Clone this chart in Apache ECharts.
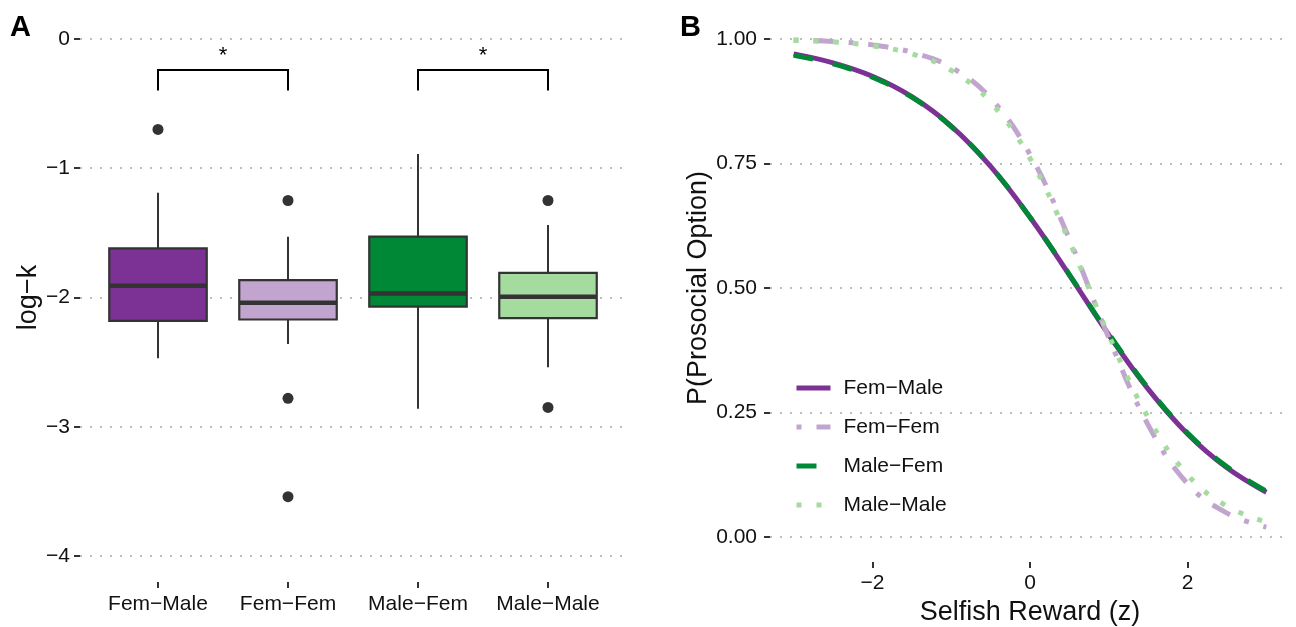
<!DOCTYPE html>
<html><head><meta charset="utf-8">
<script src="https://cdn.jsdelivr.net/npm/echarts@6/dist/echarts.min.js"></script>
<style>html,body{margin:0;padding:0;background:#fff}#c{width:1296px;height:627px}</style>
</head><body><div id="c"></div>
<script>
// ---------- Panel A data ----------
const categories = ['Fem−Male', 'Fem−Fem', 'Male−Fem', 'Male−Male'];
const boxColors = ['#7B3294', '#C2A5CF', '#008837', '#A6DBA0'];
// [lower whisker, Q1, median, Q3, upper whisker]
const femMaleBox  = [-2.47, -2.18, -1.91, -1.62, -1.19];
const femFemBox   = [-2.36, -2.17, -2.04, -1.865, -1.53];
const maleFemBox  = [-2.86, -2.07, -1.97, -1.53, -0.89];
const maleMaleBox = [-2.54, -2.16, -1.995, -1.81, -1.44];
// [category position (1-based), log-k]
const outliers = [[1, -0.70], [2, -1.25], [2, -2.78], [2, -3.54], [4, -1.25], [4, -2.85]];
const sigPairs = [[1, 2], [3, 4]];
const sigLabels = ['*', '*'];
const bracketTop = -0.24, bracketBottom = -0.40, starY = -0.13;
const logkTicks = [-4, -3, -2, -1, 0];

// ---------- Panel B data ----------
const rewardZ   = [-3, -2.5, -2, -1.5, -1, -0.5, 0, 0.5, 1, 1.5, 2, 2.5, 3];
const femMale   = [0.970, 0.952, 0.925, 0.884, 0.825, 0.744, 0.642, 0.526, 0.406, 0.297, 0.207, 0.139, 0.090];
const femFem    = [0.998, 0.995, 0.988, 0.973, 0.943, 0.881, 0.768, 0.598, 0.400, 0.225, 0.107, 0.048, 0.020];
const maleFem   = [0.967, 0.950, 0.923, 0.883, 0.824, 0.744, 0.642, 0.527, 0.408, 0.299, 0.209, 0.141, 0.092];
const maleMale  = [0.997, 0.994, 0.986, 0.970, 0.937, 0.873, 0.760, 0.593, 0.405, 0.240, 0.125, 0.062, 0.030];
const probTicks = [0, 0.25, 0.5, 0.75, 1];
const rewardTicks = [-2, 0, 2];

const FONT = "'Liberation Sans', Arial, Helvetica, sans-serif";
const minus = v => String(v).replace('-', '\u2212');
const gridLine = { show: true, lineStyle: { color: '#BEBEBE', width: 2, type: [2, 8] } };
const tick = { show: true, length: 6, lineStyle: { color: '#333', width: 2 } };
const lbl = { color: '#111', fontSize: 21, fontFamily: FONT };
const noLine = { show: false, onZero: false };

const boxData = [femMaleBox, femFemBox, maleFemBox, maleMaleBox].map((s, i) => [i + 1].concat(s));
const zip = arr => rewardZ.map((z, i) => [z, arr[i]]);

const chart = echarts.init(document.getElementById('c'));
chart.setOption({
  animation: false,
  backgroundColor: '#fff',
  textStyle: { fontFamily: FONT },
  grid: [
    { left: 80, width: 546, top: 13, height: 569, containLabel: false, outerBoundsMode: 'none' },
    { left: 770, width: 520, top: 14, height: 548, containLabel: false, outerBoundsMode: 'none' }
  ],
  xAxis: [
    { type: 'value', gridIndex: 0, min: 0.4, max: 4.6, position: 'bottom',
      axisLine: noLine, splitLine: { show: false },
      axisTick: Object.assign({ customValues: [1, 2, 3, 4] }, tick),
      axisLabel: Object.assign({ customValues: [1, 2, 3, 4], margin: 12,
        formatter: v => categories[Math.round(v) - 1] || '' }, lbl) },
    { type: 'value', gridIndex: 1, min: -3.3, max: 3.3, position: 'bottom',
      axisLine: noLine, splitLine: { show: false },
      axisTick: Object.assign({ customValues: rewardTicks }, tick),
      axisLabel: Object.assign({ customValues: rewardTicks, margin: 11, formatter: minus }, lbl),
      name: 'Selfish Reward (z)', nameLocation: 'middle', nameGap: 33,
      nameTextStyle: { fontSize: 27, color: '#111', fontFamily: FONT } }
  ],
  yAxis: [
    { type: 'value', gridIndex: 0, min: -4.2, max: 0.2, position: 'left',
      axisLine: noLine, splitLine: gridLine,
      axisTick: Object.assign({ customValues: logkTicks }, tick),
      axisLabel: Object.assign({ customValues: logkTicks, margin: 10, formatter: minus }, lbl),
      name: 'log\u2212k', nameLocation: 'middle', nameGap: 36,
      nameTextStyle: { fontSize: 27, color: '#111', fontFamily: FONT } },
    { type: 'value', gridIndex: 1, min: -0.05, max: 1.05, position: 'left',
      axisLine: noLine, splitLine: gridLine,
      axisTick: Object.assign({ customValues: probTicks }, tick),
      axisLabel: Object.assign({ customValues: probTicks, margin: 13, formatter: v => v.toFixed(2) }, lbl),
      name: 'P(Prosocial Option)', nameLocation: 'middle', nameGap: 57,
      nameTextStyle: { fontSize: 27, color: '#111', fontFamily: FONT } }
  ],
  legend: {
    orient: 'vertical', left: 789, top: 371, itemWidth: 34, itemHeight: 14, itemGap: 15,
    data: ['Fem−Male', 'Fem−Fem', 'Male−Fem', 'Male−Male'],
    itemStyle: { opacity: 0 },
    lineStyle: { width: 5 },
    textStyle: { fontSize: 21, color: '#111', fontFamily: FONT, lineHeight: 24, padding: [0, 0, 0, 8] }
  },
  graphic: [
    { type: 'text', left: 10, top: 13, style: { text: 'A', font: 'bold 29px ' + FONT, fill: '#000' } },
    { type: 'text', left: 680, top: 13, style: { text: 'B', font: 'bold 29px ' + FONT, fill: '#000' } }
  ],
  series: [
    { type: 'custom', xAxisIndex: 0, yAxisIndex: 0, data: boxData,
      encode: { x: 0, y: [1, 2, 3, 4, 5] }, z: 3,
      renderItem: function (params, api) {
        const x = api.value(0);
        const lw = api.coord([x, api.value(1)]), q1 = api.coord([x, api.value(2)]),
              md = api.coord([x, api.value(3)]), q3 = api.coord([x, api.value(4)]),
              uw = api.coord([x, api.value(5)]);
        const half = api.size([0.75, 0])[0] / 2;
        const cx = q1[0];
        const st = { stroke: '#333', lineWidth: 2 };
        return { type: 'group', children: [
          { type: 'line', shape: { x1: cx, y1: q3[1], x2: cx, y2: uw[1] }, style: st },
          { type: 'line', shape: { x1: cx, y1: q1[1], x2: cx, y2: lw[1] }, style: st },
          { type: 'rect', shape: { x: cx - half, y: q3[1], width: 2 * half, height: q1[1] - q3[1] },
            style: { fill: boxColors[params.dataIndex], stroke: '#333', lineWidth: 2.2 } },
          { type: 'line', shape: { x1: cx - half, y1: md[1], x2: cx + half, y2: md[1] },
            style: { stroke: '#333', lineWidth: 4.5 } }
        ]};
      } },
    { type: 'scatter', xAxisIndex: 0, yAxisIndex: 0, data: outliers, symbolSize: 11,
      itemStyle: { color: '#333', opacity: 1 }, z: 4 },
    { type: 'custom', xAxisIndex: 0, yAxisIndex: 0,
      data: sigPairs.map(p => [p[0], p[1]]), encode: { x: [0, 1] },
      renderItem: function (params, api) {
        const a = api.value(0), b = api.value(1);
        const p1 = api.coord([a, bracketBottom]), p2 = api.coord([a, bracketTop]),
              p3 = api.coord([b, bracketTop]), p4 = api.coord([b, bracketBottom]);
        const s = api.coord([(a + b) / 2, starY]);
        return { type: 'group', children: [
          { type: 'polyline', shape: { points: [p1, p2, p3, p4] },
            style: { stroke: '#000', lineWidth: 2, fill: null } },
          { type: 'text', style: { text: sigLabels[params.dataIndex], x: s[0], y: s[1],
            align: 'center', verticalAlign: 'middle', font: '22px ' + FONT, fill: '#000' } }
        ]};
      } },
    { name: 'Fem−Male', type: 'line', xAxisIndex: 1, yAxisIndex: 1, data: zip(femMale),
      smooth: 0.4, symbol: 'none', color: '#7B3294',
      lineStyle: { color: '#7B3294', width: 5, type: 'solid' } },
    { name: 'Fem−Fem', type: 'line', xAxisIndex: 1, yAxisIndex: 1, data: zip(femFem),
      smooth: 0.4, symbol: 'none', color: '#C2A5CF',
      lineStyle: { color: '#C2A5CF', width: 5, type: [5, 15, 20, 15] } },
    { name: 'Male−Fem', type: 'line', xAxisIndex: 1, yAxisIndex: 1, data: zip(maleFem),
      smooth: 0.4, symbol: 'none', color: '#008837',
      lineStyle: { color: '#008837', width: 5, type: [20, 20] } },
    { name: 'Male−Male', type: 'line', xAxisIndex: 1, yAxisIndex: 1, data: zip(maleMale),
      smooth: 0.4, symbol: 'none', color: '#A6DBA0',
      lineStyle: { color: '#A6DBA0', width: 5, type: [5, 15] } }
  ]
});
</script></body></html>
